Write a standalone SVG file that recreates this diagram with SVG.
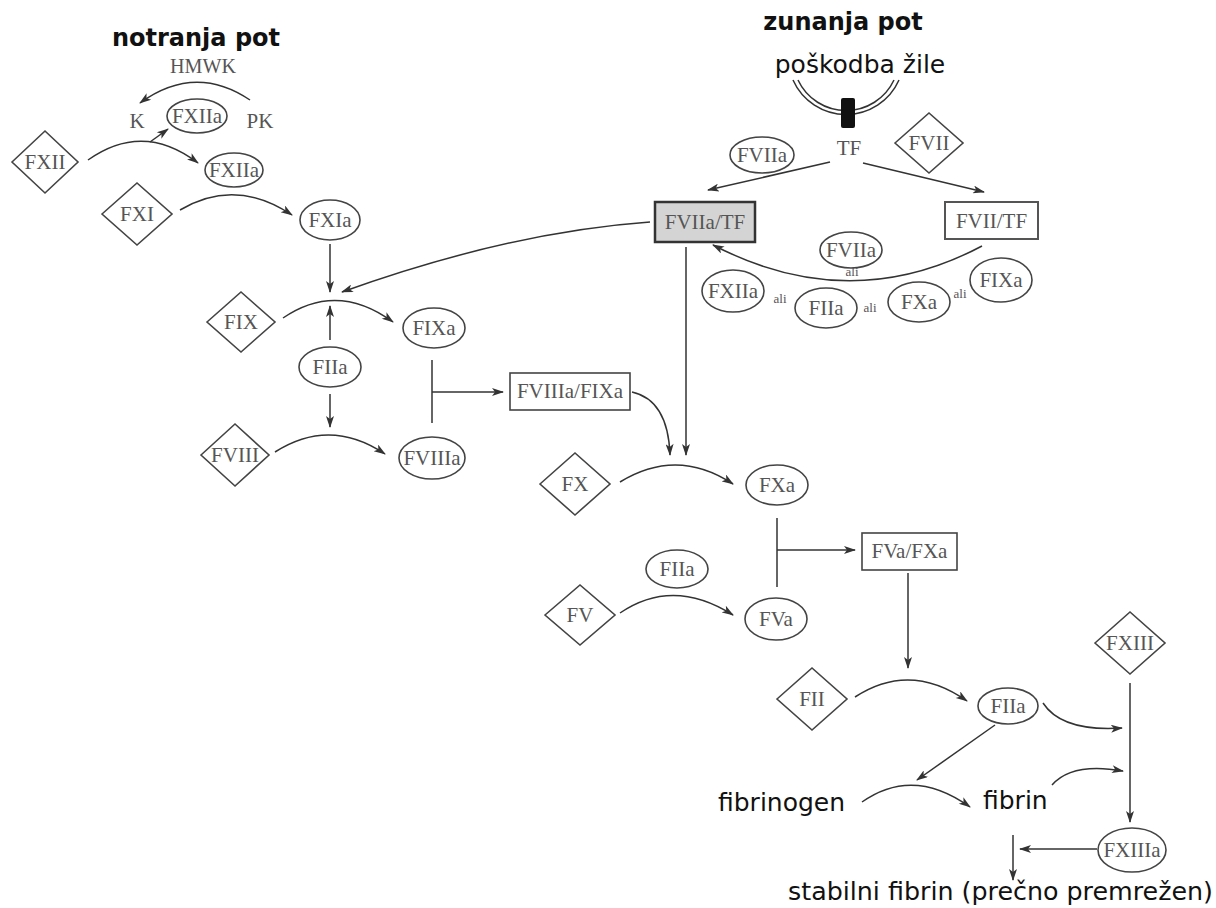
<svg xmlns="http://www.w3.org/2000/svg" width="1216" height="908" viewBox="0 0 1216 908">
<defs>
<marker id="ah" viewBox="0 0 12 8" refX="11" refY="4" markerWidth="13" markerHeight="8" markerUnits="userSpaceOnUse" orient="auto">
<path d="M0,0 L12,4 L0,8 L3,4 z" fill="#333"/>
</marker>
</defs>
<style>
.n{fill:#fff;stroke:#444;stroke-width:1.6}
.t{font-family:"Liberation Serif","Times New Roman",serif;font-size:21px;fill:#555;text-anchor:middle}
.s{font-family:"Liberation Serif","Times New Roman",serif;font-size:13px;fill:#555;text-anchor:middle}
.h{font-family:"DejaVu Sans",Verdana,sans-serif;font-size:24px;font-weight:bold;fill:#111;text-anchor:middle}
.p{font-family:"DejaVu Sans",Verdana,sans-serif;font-size:25px;fill:#111}
.c{fill:none;stroke:#333;stroke-width:1.5}
.a{fill:none;stroke:#333;stroke-width:1.5;marker-end:url(#ah)}
</style>
<rect width="1216" height="908" fill="#fff"/>

<g id="titles">
<text class="h" x="196" y="46">notranja pot</text>
<text class="h" x="843" y="30">zunanja pot</text>
<text class="p" x="860" y="73" text-anchor="middle">poškodba žile</text>
</g>

<g id="vessel">
<path class="c" d="M793,80 A58,58 0 0 0 899,80" stroke="#555"/>
<path class="c" d="M798,80 A53,53 0 0 0 894,80" stroke="#555"/>
<rect x="841" y="98" width="14" height="30" rx="2" fill="#111"/>
</g>

<g id="connectors">
<path class="a" d="M250,100 Q195,63 140,103"/>
<path class="a" d="M88,160 Q143,121 198,163"/>
<path class="a" d="M150,142 L168,129"/>
<path class="a" d="M180,210 Q235,177 292,215"/>
<path class="a" d="M330,244 L330,292"/>
<path class="a" d="M650,222 Q509,232 342,292"/>
<path class="a" d="M283,318 Q337,281 393,322"/>
<path class="a" d="M330,340 L330,306"/>
<path class="a" d="M330,394 L330,427"/>
<path class="a" d="M275,452 Q330,417 385,454"/>
<path class="c" d="M432,360 L432,423"/>
<path class="a" d="M432,392 L503,392"/>
<path class="a" d="M632,392 Q668,400 670,455"/>
<path class="a" d="M686,247 L686,455"/>
<path class="a" d="M830,162 L708,190"/>
<path class="a" d="M863,163 L984,192"/>
<path class="a" d="M982,246 Q850,316 713,245"/>
<path class="a" d="M620,482 Q677,447 733,484"/>
<path class="a" d="M620,613 Q673,577 733,615"/>
<path class="c" d="M777,518 L777,587"/>
<path class="a" d="M777,550 L855,550"/>
<path class="a" d="M908,573 L908,668"/>
<path class="a" d="M855,697 Q910,661 967,701"/>
<path class="a" d="M1043,703 Q1062,732 1122,728"/>
<path class="a" d="M1052,785 Q1072,762 1123,771"/>
<path class="a" d="M995,725 L917,780"/>
<path class="a" d="M862,802 Q913,766 970,807"/>
<path class="a" d="M1130,683 L1130,822"/>
<path class="a" d="M1097,849 L1020,849"/>
<path class="a" d="M1013,835 L1013,880"/>
</g>

<g id="labels">
<text class="t" x="203" y="73" font-size="16" textLength="66" lengthAdjust="spacingAndGlyphs">HMWK</text>
<text class="t" x="137" y="128" font-size="18">K</text>
<text class="t" x="260" y="128" font-size="18">PK</text>
<text class="t" x="849" y="155" font-size="18">TF</text>
<text class="s" x="852" y="276">ali</text>
<text class="s" x="780" y="303">ali</text>
<text class="s" x="870" y="312">ali</text>
<text class="s" x="960" y="298">ali</text>
</g>

<g id="FXII"><polygon class="n" points="12,162 45,131 78,162 45,193"/><text class="t" x="45" y="169">FXII</text></g>
<g id="FXI"><polygon class="n" points="102,214 137,183 172,214 137,245"/><text class="t" x="137" y="221">FXI</text></g>
<g id="FIX"><polygon class="n" points="207,322 241,292 275,322 241,352"/><text class="t" x="241" y="329">FIX</text></g>
<g id="FVIII"><polygon class="n" points="201,455 235,424 269,455 235,486"/><text class="t" x="235" y="462">FVIII</text></g>
<g id="FVII"><polygon class="n" points="895,143 929,113 963,143 929,173"/><text class="t" x="929" y="150">FVII</text></g>
<g id="FX"><polygon class="n" points="540,484 575,453 610,484 575,515"/><text class="t" x="575" y="491">FX</text></g>
<g id="FV"><polygon class="n" points="545,615 580,585 615,615 580,645"/><text class="t" x="580" y="622">FV</text></g>
<g id="FII"><polygon class="n" points="777,699 812,668 847,699 812,730"/><text class="t" x="812" y="706">FII</text></g>
<g id="FXIII"><polygon class="n" points="1095,643 1130,612 1165,643 1130,674"/><text class="t" x="1130" y="650">FXIII</text></g>

<g id="FXIIa-top"><ellipse class="n" cx="197" cy="116" rx="30" ry="17"/><text class="t" x="197" y="123">FXIIa</text></g>
<g id="FXIIa"><ellipse class="n" cx="234" cy="170" rx="29" ry="17"/><text class="t" x="234" y="177">FXIIa</text></g>
<g id="FXIa"><ellipse class="n" cx="330" cy="220" rx="30" ry="20"/><text class="t" x="330" y="227">FXIa</text></g>
<g id="FIXa"><ellipse class="n" cx="434" cy="328" rx="31" ry="20"/><text class="t" x="434" y="335">FIXa</text></g>
<g id="FIIa-left"><ellipse class="n" cx="330" cy="367" rx="31" ry="20"/><text class="t" x="330" y="374">FIIa</text></g>
<g id="FVIIIa"><ellipse class="n" cx="432" cy="458" rx="33" ry="21"/><text class="t" x="432" y="465">FVIIIa</text></g>
<g id="FVIIa-top"><ellipse class="n" cx="762" cy="155" rx="32" ry="18"/><text class="t" x="762" y="162">FVIIa</text></g>
<g id="FVIIa-mid"><ellipse class="n" cx="851" cy="250" rx="31" ry="18"/><text class="t" x="851" y="257">FVIIa</text></g>
<g id="FXIIa-right"><ellipse class="n" cx="733" cy="291" rx="31" ry="21"/><text class="t" x="733" y="298">FXIIa</text></g>
<g id="FIIa-right"><ellipse class="n" cx="826" cy="308" rx="31" ry="20"/><text class="t" x="826" y="315">FIIa</text></g>
<g id="FXa-right"><ellipse class="n" cx="919" cy="302" rx="31" ry="20"/><text class="t" x="919" y="309">FXa</text></g>
<g id="FIXa-right"><ellipse class="n" cx="1001" cy="280" rx="31" ry="22"/><text class="t" x="1001" y="287">FIXa</text></g>
<g id="FXa"><ellipse class="n" cx="777" cy="485" rx="31" ry="20"/><text class="t" x="777" y="492">FXa</text></g>
<g id="FIIa-mid"><ellipse class="n" cx="677" cy="569" rx="31" ry="19"/><text class="t" x="677" y="576">FIIa</text></g>
<g id="FVa"><ellipse class="n" cx="776" cy="619" rx="31" ry="21"/><text class="t" x="776" y="626">FVa</text></g>
<g id="FIIa-bottom"><ellipse class="n" cx="1008" cy="706" rx="30" ry="18"/><text class="t" x="1008" y="713">FIIa</text></g>
<g id="FXIIIa"><ellipse class="n" cx="1132" cy="850" rx="34" ry="22"/><text class="t" x="1132" y="857">FXIIIa</text></g>

<g id="FVIIa-TF"><rect x="655" y="202" width="100" height="40" fill="#d4d4d4" stroke="#333" stroke-width="2.5"/><text class="t" x="705" y="229">FVIIa/TF</text></g>
<g id="FVII-TF"><rect x="945" y="202" width="93" height="37" fill="#fff" stroke="#555" stroke-width="2"/><text class="t" x="991.5" y="228">FVII/TF</text></g>
<g id="FVIIIa-FIXa"><rect x="510" y="373" width="120" height="37" fill="#fff" stroke="#444" stroke-width="1.6"/><text class="t" x="570" y="398">FVIIIa/FIXa</text></g>
<g id="FVa-FXa"><rect x="862" y="533" width="95" height="37" fill="#fff" stroke="#444" stroke-width="1.6"/><text class="t" x="909.5" y="558">FVa/FXa</text></g>

<g id="fibrinogen"><text class="p" x="718" y="811">fibrinogen</text></g>
<g id="fibrin"><text class="p" x="983" y="809">fibrin</text></g>
<g id="stabilni"><text class="p" x="788" y="900" textLength="425" lengthAdjust="spacingAndGlyphs">stabilni fibrin (prečno premrežen)</text></g>
</svg>
